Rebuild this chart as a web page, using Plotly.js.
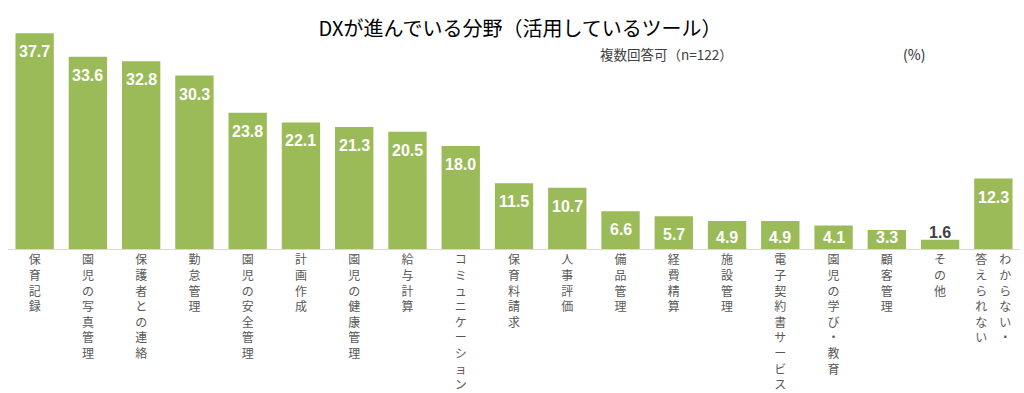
<!DOCTYPE html>
<html>
<head>
<meta charset="utf-8">
<script src="https://cdn.plot.ly/plotly-3.0.1.min.js"></script>
<style>
html,body{margin:0;padding:0;background:#fff;}
#chart{width:1024px;height:393px;}
</style>
</head>
<body>
<div id="chart"></div>
<script>
// ---- data ----
const categories = [
  "保育記録","園児の写真管理","保護者との連絡","勤怠管理","園児の安全管理",
  "計画作成","園児の健康管理","給与計算","コミュニケーション","保育料請求",
  "人事評価","備品管理","経費精算","施設管理","電子契約書サービス",
  "園児の学び・教育","顧客管理","その他","わからない・\n答えられない"
];
const values = [37.7,33.6,32.8,30.3,23.8,22.1,21.3,20.5,18.0,11.5,10.7,6.6,5.7,4.9,4.9,4.1,3.3,1.6,12.3];
const titleText = "DXが進んでいる分野（活用しているツール）";
const subtitleText = "複数回答可（n=122）";
const unitText = "(%)";

// ---- layout constants ----
const W = 1024, H = 393;
const M = {l: 7.5, r: 4, t: 20, b: 144};
const pxX = x => (x - M.l) / (W - M.l - M.r);
const pxY = y => (H - M.b - y) / (H - M.t - M.b);
const GREEN = "#9BBB59";
const JP = "'Noto Sans CJK JP', 'Noto Sans', sans-serif";
const NUM = "'Liberation Sans', Arial, sans-serif";
const LABEL_MIN_ANCHOR = 5.2;   // inside labels never sink below this height
const OUTSIDE_BELOW = 3;        // bars shorter than this get the label on top

// vertical (tategaki-like) tick text: columns read right-to-left
function vertical(label) {
  const cols = label.split("\n").map(s => Array.from(s)).reverse();
  const n = Math.max(...cols.map(c => c.length));
  const lines = [];
  for (let i = 0; i < n; i++) {
    lines.push(cols.map(c => c[i] || "\u3000").join("\u3000"));
  }
  return lines.join("<br>");
}

const annotations = values.map((v, i) => {
  const outside = v < OUTSIDE_BELOW;
  return {
    x: categories[i], y: outside ? v : Math.max(v, LABEL_MIN_ANCHOR),
    xref: "x", yref: "y",
    text: v.toFixed(1), showarrow: false,
    xanchor: "center", yanchor: outside ? "bottom" : "top",
    yshift: outside ? -3 : -8,
    font: {family: NUM, size: 16, color: outside ? "#404040" : "#FFFFFF", weight: "bold"}
  };
});
annotations.push({
  xref: "paper", yref: "paper", x: pxX(735), y: pxY(54),
  xanchor: "right", yanchor: "middle", showarrow: false,
  text: subtitleText, font: {family: JP, size: 13.5, color: "#404040"}
});
annotations.push({
  xref: "paper", yref: "paper", x: pxX(914), y: pxY(54),
  xanchor: "center", yanchor: "middle", showarrow: false,
  text: unitText, font: {family: JP, size: 14, color: "#262626"}
});

const trace = {
  type: "bar", x: categories, y: values,
  marker: {color: GREEN, line: {width: 0}},
  hoverinfo: "skip"
};

const layout = {
  width: W, height: H,
  margin: M,
  paper_bgcolor: "#fff", plot_bgcolor: "#fff",
  bargap: 0.28,
  showlegend: false,
  title: {
    text: titleText, xref: "container", yref: "container",
    x: 520 / W, xanchor: "center", y: 1 - 28.5 / H, yanchor: "middle",
    font: {family: JP, size: 20, color: "#000000"}
  },
  xaxis: {
    type: "category", tickmode: "array",
    tickvals: categories, ticktext: categories.map(vertical),
    tickangle: 0, ticks: "", showgrid: false, zeroline: false,
    showline: true, linecolor: "#D9D9D9", linewidth: 1,
    tickfont: {family: JP, size: 12, color: "#595959"},
    fixedrange: true
  },
  yaxis: {
    range: [0, 40], visible: false, showgrid: false, zeroline: false, fixedrange: true
  },
  annotations: annotations
};

Plotly.newPlot("chart", [trace], layout, {displayModeBar: false, staticPlot: true});
</script>
</body>
</html>
